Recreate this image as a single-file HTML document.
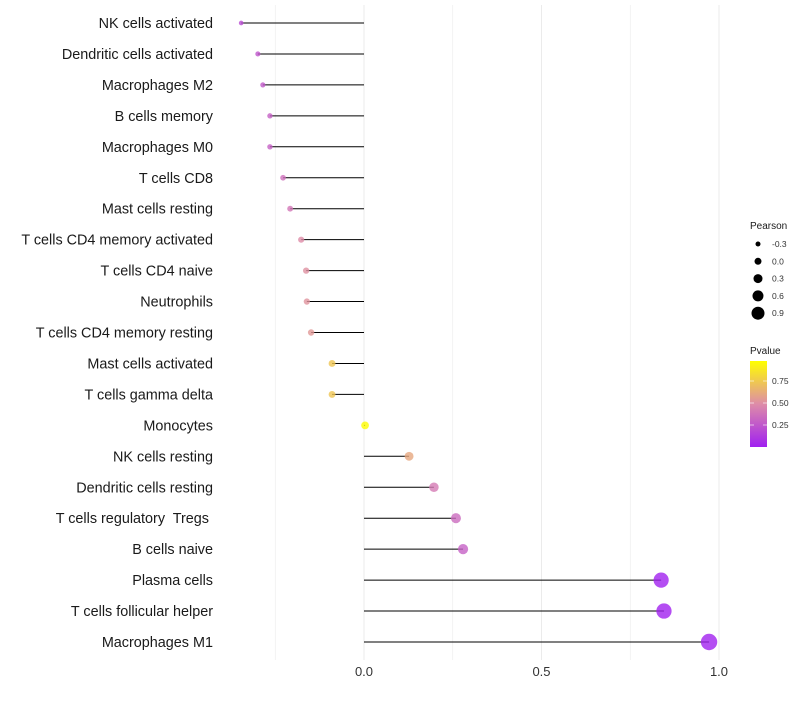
<!DOCTYPE html>
<html><head><meta charset="utf-8"><style>
body{margin:0;background:#fff;font-family:"Liberation Sans",sans-serif}
</style></head><body>
<svg id="c" width="800" height="700" xmlns="http://www.w3.org/2000/svg"></svg>
<script>
const cells=["NK cells activated","Dendritic cells activated","Macrophages M2","B cells memory","Macrophages M0","T cells CD8","Mast cells resting","T cells CD4 memory activated","T cells CD4 naive","Neutrophils","T cells CD4 memory resting","Mast cells activated","T cells gamma delta","Monocytes","NK cells resting","Dendritic cells resting","T cells regulatory  Tregs ","B cells naive","Plasma cells","T cells follicular helper","Macrophages M1"];
const pearson=[-0.346,-0.299,-0.285,-0.265,-0.265,-0.228,-0.208,-0.177,-0.163,-0.161,-0.149,-0.09,-0.09,0.003,0.127,0.197,0.259,0.279,0.837,0.845,0.972];
const pvalue=[0.2,0.25,0.27,0.3,0.3,0.37,0.4,0.5,0.52,0.53,0.55,0.75,0.75,0.99,0.62,0.42,0.35,0.3,0.01,0.01,0.01];
const xTicks=[0,0.5,1];
const xGrid=[-0.25,0.25,0.75];
const sizeTicks=[-0.3,0,0.3,0.6,0.9];
const pTicks=[0.25,0.5,0.75];
const svg=document.getElementById('c');const NS="http://www.w3.org/2000/svg";
const X=v=>364+v*355;const Y=i=>23+i*30.95;
const R=v=>2.3+(v+0.35)/1.3*5.8;
const RL=v=>2.5+(v+0.3)/1.2*4;
function col(p){const s=[[0,[160,32,240]],[0.5,[222,140,168]],[1,[255,255,0]]];let a=s[0],b=s[1];if(p>0.5){a=s[1];b=s[2];}const t=(p-a[0])/(b[0]-a[0]);return 'rgb('+a[1].map((c,k)=>Math.round(c+(b[1][k]-c)*t)).join(',')+')';}
function mk(t,at){const e=document.createElementNS(NS,t);for(const k in at)e.setAttribute(k,at[k]);svg.appendChild(e);return e;}
xGrid.concat(xTicks).forEach(v=>{const l=mk('line',{x1:X(v),x2:X(v),y1:5,y2:660,stroke:'#ebebeb','stroke-width':xTicks.includes(v)?1:0.6});

});
xTicks.forEach(v=>{const t=mk('text',{x:X(v),y:676,'text-anchor':'middle','font-size':13,fill:'#333'});t.textContent=v.toFixed(1);

});
cells.forEach((c,i)=>{const t=mk('text',{x:213,y:Y(i)+5,'text-anchor':'end','font-size':14.4,fill:'#1a1a1a',style:'white-space:pre'});t.textContent=c;


const l=mk('line',{x1:X(0),x2:X(pearson[i]),y1:Y(i),y2:Y(i),stroke:'#000','stroke-width':1});


const p=mk('circle',{cx:X(pearson[i]),cy:Y(i),r:R(pearson[i]),fill:col(pvalue[i]),'fill-opacity':0.8});

});
let t=mk('text',{x:750,y:229,'font-size':10,fill:'#1a1a1a'});t.textContent='Pearson';


sizeTicks.forEach((v,k)=>{const y=244+k*17.3;const c=mk('circle',{cx:758,cy:y,r:RL(v),fill:'#000'});


const l=mk('text',{x:772,y:y+3,'font-size':8.5,fill:'#333'});l.textContent=v.toFixed(1);

});
t=mk('text',{x:750,y:354,'font-size':10,fill:'#1a1a1a'});t.textContent='Pvalue';


const d=mk('defs',{});d.innerHTML='<linearGradient id="g" x1="0" y1="1" x2="0" y2="0"><stop offset="0" stop-color="rgb(160,32,240)"/><stop offset="0.5" stop-color="rgb(222,140,168)"/><stop offset="1" stop-color="rgb(255,255,0)"/></linearGradient>';
const bar=mk('rect',{x:750,y:361,width:17,height:86,fill:'url(#g)'});


pTicks.forEach(v=>{const y=447-v*88;mk('line',{x1:750,x2:754,y1:y,y2:y,stroke:'#fff','stroke-opacity':0.6});mk('line',{x1:763,x2:767,y1:y,y2:y,stroke:'#fff','stroke-opacity':0.6});
const l=mk('text',{x:772,y:y+3,'font-size':8.5,fill:'#333'});l.textContent=v.toFixed(2);

});
</script>
</body></html>
